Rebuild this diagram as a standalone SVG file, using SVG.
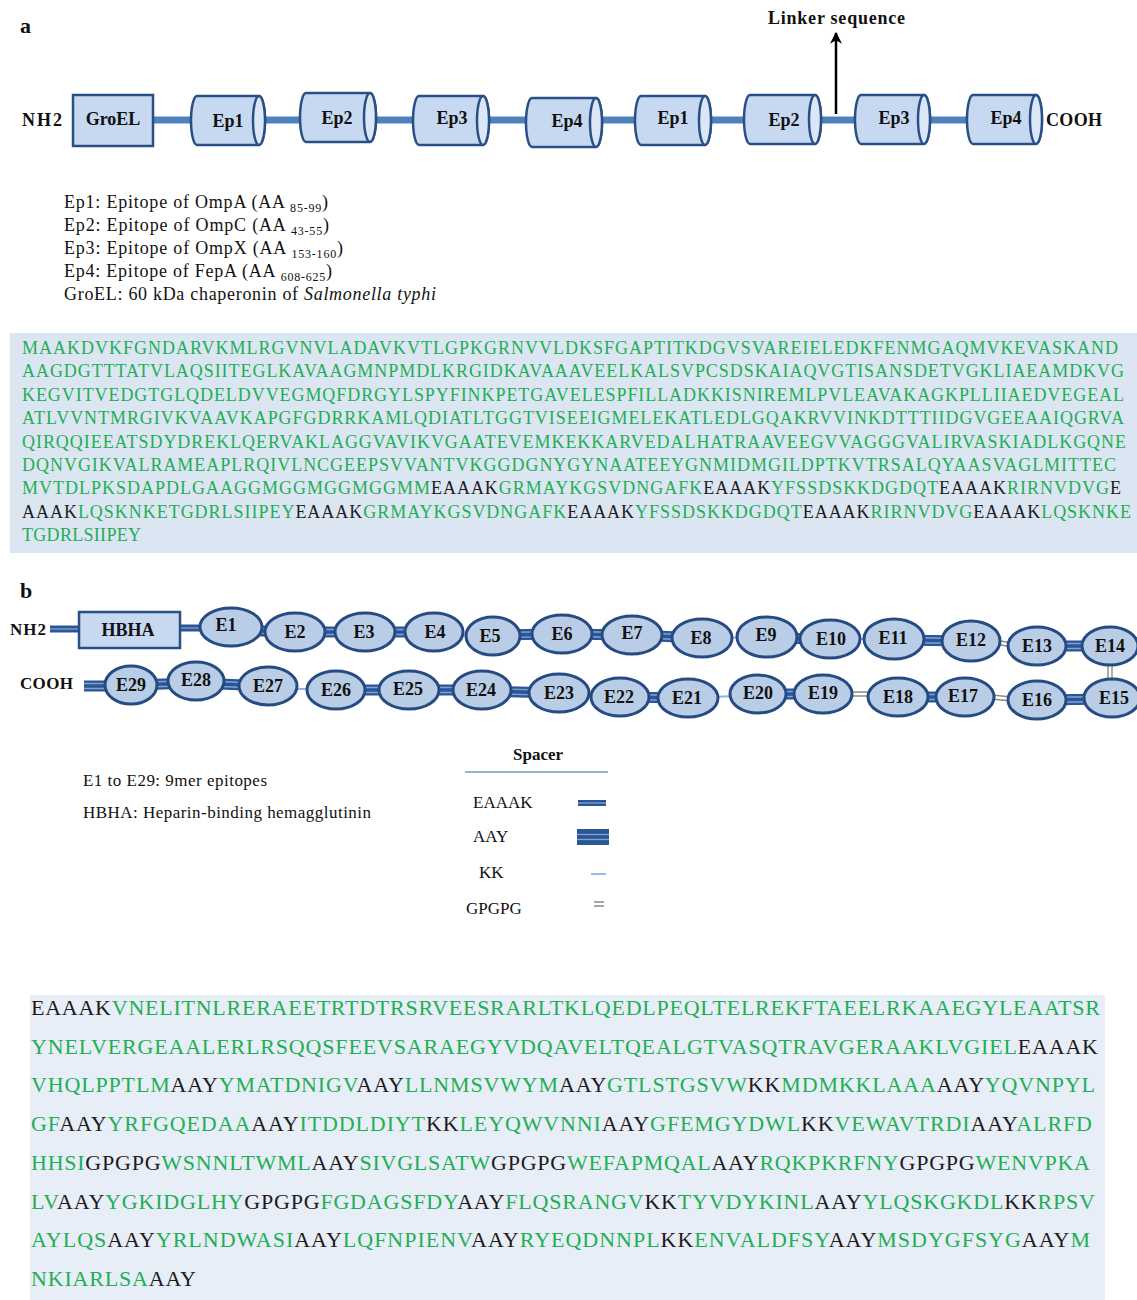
<svg xmlns="http://www.w3.org/2000/svg" width="1137" height="1300" viewBox="0 0 1137 1300">
<defs>
<marker id="arr" viewBox="0 0 10 10" refX="9" refY="5" markerWidth="12" markerHeight="12" orient="auto-start-reverse" markerUnits="userSpaceOnUse">
<path d="M0,0 L10,5 L0,10 L3,5 Z" fill="#000"/>
</marker>
</defs>
<style>
text{font-family:"Liberation Serif","Times New Roman",serif;fill:#111}
.b{font-weight:bold}
.lbl{font-weight:bold;font-size:18px;text-anchor:middle}
.box{fill:#c6d9f1;stroke:#2a4f86;stroke-width:2.5}
.cap{fill:#dbe7f6;stroke:#2a4f86;stroke-width:2.5}
.ell{fill:#b9cde6;stroke:#264b82;stroke-width:3}
.bb{stroke:#4f81bd;stroke-width:7;fill:none}
.eo{stroke:#2c5594;stroke-width:7;fill:none}
.ao{stroke:#2c5594;stroke-width:11;fill:none}
.st{stroke:#7ea3d6;stroke-width:1.3;fill:none}
.kk{stroke:#8db3e2;stroke-width:1.8;fill:none}
.gp{stroke:#8a8a8a;stroke-width:1.4;fill:none}
.g{fill:#22ae55}
.k{fill:#1d1b20}
.leg{font-size:18px}
.sub{font-size:12px}
.sa{font-size:18px}
.sb{font-size:22px}
</style>

<!-- Panel a -->
<text x="20" y="33" class="b" font-size="22">a</text>
<text x="768" y="24" class="b" font-size="18" textLength="137">Linker sequence</text>

<g id="a-connectors">
<line x1="153" y1="120" x2="1000" y2="120" class="bb"/>
<line x1="836" y1="114" x2="836" y2="33" stroke="#000" stroke-width="2.5" marker-end="url(#arr)"/>
</g>

<text x="22" y="126" class="b" font-size="18" textLength="40">NH2</text>
<text x="1046" y="126" class="b" font-size="18" textLength="56">COOH</text>

<g id="a-groel">
<rect x="73" y="95" width="80" height="51" class="box"/>
<text x="113" y="125" class="lbl">GroEL</text>
</g>
<g id="a-ep1">
<path d="M197 96 H259 A6 24.5 0 0 1 259 145 H197 A6 24.5 0 0 1 197 96 Z" class="box"/>
<ellipse cx="259" cy="120.5" rx="6" ry="24.5" class="cap"/>
<text x="228" y="127" class="lbl">Ep1</text>
</g>
<g id="a-ep2">
<path d="M306 93 H370 A6 24.5 0 0 1 370 142 H306 A6 24.5 0 0 1 306 93 Z" class="box"/>
<ellipse cx="370" cy="117.5" rx="6" ry="24.5" class="cap"/>
<text x="337" y="124" class="lbl">Ep2</text>
</g>
<g id="a-ep3">
<path d="M419 96 H483 A6 24.5 0 0 1 483 145 H419 A6 24.5 0 0 1 419 96 Z" class="box"/>
<ellipse cx="483" cy="120.5" rx="6" ry="24.5" class="cap"/>
<text x="452" y="124" class="lbl">Ep3</text>
</g>
<g id="a-ep4">
<path d="M532 98 H596 A6 24.5 0 0 1 596 147 H532 A6 24.5 0 0 1 532 98 Z" class="box"/>
<ellipse cx="596" cy="122.5" rx="6" ry="24.5" class="cap"/>
<text x="567" y="127" class="lbl">Ep4</text>
</g>
<g id="a-ep1b">
<path d="M641 96 H705 A6 24.5 0 0 1 705 145 H641 A6 24.5 0 0 1 641 96 Z" class="box"/>
<ellipse cx="705" cy="120.5" rx="6" ry="24.5" class="cap"/>
<text x="673" y="124" class="lbl">Ep1</text>
</g>
<g id="a-ep2b">
<path d="M750 95 H815 A6 24.5 0 0 1 815 144 H750 A6 24.5 0 0 1 750 95 Z" class="box"/>
<ellipse cx="815" cy="119.5" rx="6" ry="24.5" class="cap"/>
<text x="784" y="126" class="lbl">Ep2</text>
</g>
<g id="a-ep3b">
<path d="M861 95 H924 A6 24.5 0 0 1 924 144 H861 A6 24.5 0 0 1 861 95 Z" class="box"/>
<ellipse cx="924" cy="119.5" rx="6" ry="24.5" class="cap"/>
<text x="894" y="124" class="lbl">Ep3</text>
</g>
<g id="a-ep4b">
<path d="M973 95 H1036 A6 24.5 0 0 1 1036 144 H973 A6 24.5 0 0 1 973 95 Z" class="box"/>
<ellipse cx="1036" cy="119.5" rx="6" ry="24.5" class="cap"/>
<text x="1006" y="124" class="lbl">Ep4</text>
</g>

<g id="a-legend" class="leg">
<text x="64" y="208" textLength="264">Ep1: Epitope  of OmpA (AA <tspan class="sub" dy="4">85-99</tspan><tspan dy="-4">)</tspan></text>
<text x="64" y="231" textLength="265">Ep2: Epitope  of OmpC (AA <tspan class="sub" dy="4">43-55</tspan><tspan dy="-4">)</tspan></text>
<text x="64" y="254" textLength="279">Ep3: Epitope  of OmpX (AA <tspan class="sub" dy="4">153-160</tspan><tspan dy="-4">)</tspan></text>
<text x="64" y="277" textLength="268">Ep4: Epitope  of FepA (AA <tspan class="sub" dy="4">608-625</tspan><tspan dy="-4">)</tspan></text>
<text x="64" y="300" textLength="372">GroEL:  60 kDa chaperonin  of <tspan font-style="italic">Salmonella typhi</tspan></text>
</g>

<g id="a-sequence">
<rect x="10" y="333" width="1127" height="220" fill="#dce6f2"/>
<g class="sa">
<text x="22" y="354" textLength="1096" class="g">MAAKDVKFGNDARVKMLRGVNVLADAVKVTLGPKGRNVVLDKSFGAPTITKDGVSVAREIELEDKFENMGAQMVKEVASKAND</text>
<text x="22" y="377.4" textLength="1102" class="g">AAGDGTTTATVLAQSIITEGLKAVAAGMNPMDLKRGIDKAVAAAVEELKALSVPCSDSKAIAQVGTISANSDETVGKLIAEAMDKVG</text>
<text x="22" y="400.8" textLength="1102" class="g">KEGVITVEDGTGLQDELDVVEGMQFDRGYLSPYFINKPETGAVELESPFILLADKKISNIREMLPVLEAVAKAGKPLLIIAEDVEGEAL</text>
<text x="22" y="424.2" textLength="1102" class="g">ATLVVNTMRGIVKVAAVKAPGFGDRRKAMLQDIATLTGGTVISEEIGMELEKATLEDLGQAKRVVINKDTTTIIDGVGEEAAIQGRVA</text>
<text x="22" y="447.6" textLength="1104" class="g">QIRQQIEEATSDYDREKLQERVAKLAGGVAVIKVGAATEVEMKEKKARVEDALHATRAAVEEGVVAGGGVALIRVASKIADLKGQNE</text>
<text x="22" y="471" textLength="1094" class="g">DQNVGIKVALRAMEAPLRQIVLNCGEEPSVVANTVKGGDGNYGYNAATEEYGNMIDMGILDPTKVTRSALQYAASVAGLMITTEC</text>
<text x="22" y="494.4" textLength="1099"><tspan class="g">MVTDLPKSDAPDLGAAGGMGGMGGMGGMM</tspan><tspan class="k">EAAAK</tspan><tspan class="g">GRMAYKGSVDNGAFK</tspan><tspan class="k">EAAAK</tspan><tspan class="g">YFSSDSKKDGDQT</tspan><tspan class="k">EAAAK</tspan><tspan class="g">RIRNVDVG</tspan><tspan class="k">E</tspan></text>
<text x="22" y="517.8" textLength="1109"><tspan class="k">AAAK</tspan><tspan class="g">LQSKNKETGDRLSIIPEY</tspan><tspan class="k">EAAAK</tspan><tspan class="g">GRMAYKGSVDNGAFK</tspan><tspan class="k">EAAAK</tspan><tspan class="g">YFSSDSKKDGDQT</tspan><tspan class="k">EAAAK</tspan><tspan class="g">RIRNVDVG</tspan><tspan class="k">EAAAK</tspan><tspan class="g">LQSKNKE</tspan></text>
<text x="22" y="541.2" textLength="119" class="g">TGDRLSIIPEY</text>
</g>
</g>

<!-- Panel b -->
<text x="20" y="598" class="b" font-size="22">b</text>
<text x="10" y="635" class="b" font-size="17" textLength="36">NH2</text>
<text x="20" y="689" class="b" font-size="17" textLength="53">COOH</text>

<g id="b-connectors">
<line x1="50" y1="629" x2="80" y2="629" class="eo"/><line x1="50" y1="629" x2="80" y2="629" class="st"/>
<line x1="180" y1="628" x2="202" y2="628" class="eo"/><line x1="180" y1="628" x2="202" y2="628" class="st"/>
<g>
<path d="M231 630 L295 632 M295 632 L365 632 M365 632 L434 632 M493 635 L562 634 M562 634 L632 635 M632 635 L702 638 M767 638 L830 639 M894 640 L971 641 M1037 646 L1110 646" class="ao"/>
<path d="M231 627.5 L295 629.5 M295 629.5 L365 629.5 M365 629.5 L434 629.5 M493 632.5 L562 631.5 M562 631.5 L632 632.5 M632 632.5 L702 635.5 M767 635.5 L830 636.5 M894 637.5 L971 638.5 M1037 643.5 L1110 643.5" class="st"/>
<path d="M231 632.5 L295 634.5 M295 634.5 L365 634.5 M365 634.5 L434 634.5 M493 637.5 L562 636.5 M562 636.5 L632 637.5 M632 637.5 L702 640.5 M767 640.5 L830 641.5 M894 642.5 L971 643.5 M1037 648.5 L1110 648.5" class="st"/>
</g>
<path d="M434 634 L493 635 M702 638 L767 637 M830 639 L894 639" class="kk"/>
<path d="M995 640 L1012 643 M995 644 L1012 647" class="gp"/>
<path d="M1108 662 L1108 682 M1112 662 L1112 682" class="gp"/>
<g>
<path d="M84 686 L131 686 M131 685 L196 683 M196 683 L268 686 M336 690 L409 690 M409 690 L482 690 M482 691 L559 693 M620 697 L688 698 M758 694 L823 694 M898 697 L965 697 M1037 700 L1112 699" class="ao"/>
<path d="M84 683.5 L131 683.5 M131 682.5 L196 680.5 M196 680.5 L268 683.5 M336 687.5 L409 687.5 M409 687.5 L482 687.5 M482 688.5 L559 690.5 M620 694.5 L688 695.5 M758 691.5 L823 691.5 M898 694.5 L965 694.5 M1037 697.5 L1112 696.5" class="st"/>
<path d="M84 688.5 L131 688.5 M131 687.5 L196 685.5 M196 685.5 L268 688.5 M336 692.5 L409 692.5 M409 692.5 L482 692.5 M482 693.5 L559 695.5 M620 699.5 L688 700.5 M758 696.5 L823 696.5 M898 699.5 L965 699.5 M1037 702.5 L1112 701.5" class="st"/>
</g>
<path d="M268 688 L336 690 M559 695 L620 697 M688 698 L758 695" class="kk"/>
<path d="M850 692 L870 692 M850 696 L870 696 M992 695 L1011 697 M992 699 L1011 701" class="gp"/>
</g>

<g id="b-hbha">
<rect x="79" y="612" width="101" height="36" class="box"/>
<text x="128" y="636" class="lbl">HBHA</text>
</g>
<g id="b-E1"><ellipse cx="231" cy="627" rx="31" ry="19" class="ell"/><text x="226" y="631" class="lbl">E1</text></g>
<g id="b-E2"><ellipse cx="295" cy="632" rx="30" ry="19" class="ell"/><text x="295" y="638" class="lbl">E2</text></g>
<g id="b-E3"><ellipse cx="365" cy="632" rx="30" ry="19" class="ell"/><text x="364" y="638" class="lbl">E3</text></g>
<g id="b-E4"><ellipse cx="434" cy="632" rx="29" ry="19" class="ell"/><text x="435" y="638" class="lbl">E4</text></g>
<g id="b-E5"><ellipse cx="493" cy="636" rx="27" ry="19" class="ell"/><text x="490" y="642" class="lbl">E5</text></g>
<g id="b-E6"><ellipse cx="562" cy="634" rx="30" ry="19" class="ell"/><text x="562" y="640" class="lbl">E6</text></g>
<g id="b-E7"><ellipse cx="632" cy="635" rx="30" ry="19" class="ell"/><text x="632" y="639" class="lbl">E7</text></g>
<g id="b-E8"><ellipse cx="702" cy="638" rx="30" ry="19" class="ell"/><text x="701" y="644" class="lbl">E8</text></g>
<g id="b-E9"><ellipse cx="767" cy="637" rx="30" ry="20" class="ell"/><text x="766" y="641" class="lbl">E9</text></g>
<g id="b-E10"><ellipse cx="830" cy="639" rx="30" ry="19" class="ell"/><text x="831" y="645" class="lbl">E10</text></g>
<g id="b-E11"><ellipse cx="894" cy="639" rx="30" ry="20" class="ell"/><text x="893" y="644" class="lbl">E11</text></g>
<g id="b-E12"><ellipse cx="971" cy="641" rx="29" ry="20" class="ell"/><text x="971" y="646" class="lbl">E12</text></g>
<g id="b-E13"><ellipse cx="1037" cy="646" rx="29" ry="19" class="ell"/><text x="1037" y="652" class="lbl">E13</text></g>
<g id="b-E14"><ellipse cx="1110" cy="646" rx="28" ry="19" class="ell"/><text x="1110" y="652" class="lbl">E14</text></g>
<g id="b-E15"><ellipse cx="1112" cy="698" rx="28" ry="19" class="ell"/><text x="1114" y="704" class="lbl">E15</text></g>
<g id="b-E16"><ellipse cx="1037" cy="700" rx="29" ry="19" class="ell"/><text x="1037" y="706" class="lbl">E16</text></g>
<g id="b-E17"><ellipse cx="965" cy="697" rx="29" ry="19" class="ell"/><text x="963" y="702" class="lbl">E17</text></g>
<g id="b-E18"><ellipse cx="898" cy="697" rx="30" ry="19" class="ell"/><text x="898" y="703" class="lbl">E18</text></g>
<g id="b-E19"><ellipse cx="823" cy="694" rx="29" ry="19" class="ell"/><text x="823" y="699" class="lbl">E19</text></g>
<g id="b-E20"><ellipse cx="758" cy="694" rx="28" ry="19" class="ell"/><text x="758" y="699" class="lbl">E20</text></g>
<g id="b-E21"><ellipse cx="688" cy="698" rx="30" ry="19" class="ell"/><text x="687" y="704" class="lbl">E21</text></g>
<g id="b-E22"><ellipse cx="620" cy="697" rx="29" ry="19" class="ell"/><text x="619" y="703" class="lbl">E22</text></g>
<g id="b-E23"><ellipse cx="559" cy="693" rx="30" ry="19" class="ell"/><text x="559" y="699" class="lbl">E23</text></g>
<g id="b-E24"><ellipse cx="482" cy="690" rx="29" ry="19" class="ell"/><text x="481" y="696" class="lbl">E24</text></g>
<g id="b-E25"><ellipse cx="409" cy="690" rx="30" ry="19" class="ell"/><text x="408" y="695" class="lbl">E25</text></g>
<g id="b-E26"><ellipse cx="336" cy="690" rx="29" ry="19" class="ell"/><text x="336" y="696" class="lbl">E26</text></g>
<g id="b-E27"><ellipse cx="268" cy="686" rx="29" ry="19" class="ell"/><text x="268" y="692" class="lbl">E27</text></g>
<g id="b-E28"><ellipse cx="196" cy="681" rx="28" ry="19" class="ell"/><text x="196" y="686" class="lbl">E28</text></g>
<g id="b-E29"><ellipse cx="131" cy="685" rx="26" ry="19" class="ell"/><text x="131" y="691" class="lbl">E29</text></g>

<g id="b-legend" font-size="17">
<text x="83" y="786" textLength="184">E1 to E29:  9mer  epitopes</text>
<text x="83" y="818" textLength="288">HBHA:  Heparin-binding  hemagglutinin</text>
</g>

<g id="b-spacer-legend" font-size="17">
<text x="538" y="760" class="b" text-anchor="middle">Spacer</text>
<line x1="465" y1="772" x2="608" y2="772" stroke="#95b3d7" stroke-width="2"/>
<text x="473" y="808">EAAAK</text>
<rect x="578" y="800" width="28" height="6" fill="#2c5594"/><line x1="578" y1="803" x2="606" y2="803" class="st"/>
<text x="473" y="842">AAY</text>
<rect x="577" y="829" width="32" height="16" fill="#2c5594"/><line x1="577" y1="834.5" x2="609" y2="834.5" class="st"/><line x1="577" y1="839.5" x2="609" y2="839.5" class="st"/>
<text x="479" y="878">KK</text>
<line x1="591" y1="874" x2="606" y2="874" class="kk"/>
<text x="466" y="914">GPGPG</text>
<path d="M594 902 L604 902 M594 906 L604 906" class="gp"/>
</g>

<g id="b-sequence">
<rect x="30" y="995" width="1075" height="305" fill="#e8eef7"/>
<g class="sb">
<text x="31" y="1015" textLength="1069"><tspan class="k">EAAAK</tspan><tspan class="g">VNELITNLRERAEETRTDTRSRVEESRARLTKLQEDLPEQLTELREKFTAEELRKAAEGYLEAATSR</tspan></text>
<text x="31" y="1054" textLength="1067"><tspan class="g">YNELVERGEAALERLRSQQSFEEVSARAEGYVDQAVELTQEALGTVASQTRAVGERAAKLVGIEL</tspan><tspan class="k">EAAAK</tspan></text>
<text x="31" y="1092" textLength="1064"><tspan class="g">VHQLPPTLM</tspan><tspan class="k">AAY</tspan><tspan class="g">YMATDNIGV</tspan><tspan class="k">AAY</tspan><tspan class="g">LLNMSVWYM</tspan><tspan class="k">AAY</tspan><tspan class="g">GTLSTGSVW</tspan><tspan class="k">KK</tspan><tspan class="g">MDMKKLAAA</tspan><tspan class="k">AAY</tspan><tspan class="g">YQVNPYL</tspan></text>
<text x="31" y="1131" textLength="1061"><tspan class="g">GF</tspan><tspan class="k">AAY</tspan><tspan class="g">YRFGQEDAA</tspan><tspan class="k">AAY</tspan><tspan class="g">ITDDLDIYT</tspan><tspan class="k">KK</tspan><tspan class="g">LEYQWVNNI</tspan><tspan class="k">AAY</tspan><tspan class="g">GFEMGYDWL</tspan><tspan class="k">KK</tspan><tspan class="g">VEWAVTRDI</tspan><tspan class="k">AAY</tspan><tspan class="g">ALRFD</tspan></text>
<text x="31" y="1170" textLength="1059"><tspan class="g">HHSI</tspan><tspan class="k">GPGPG</tspan><tspan class="g">WSNNLTWML</tspan><tspan class="k">AAY</tspan><tspan class="g">SIVGLSATW</tspan><tspan class="k">GPGPG</tspan><tspan class="g">WEFAPMQAL</tspan><tspan class="k">AAY</tspan><tspan class="g">RQKPKRFNY</tspan><tspan class="k">GPGPG</tspan><tspan class="g">WENVPKA</tspan></text>
<text x="31" y="1209" textLength="1064"><tspan class="g">LV</tspan><tspan class="k">AAY</tspan><tspan class="g">YGKIDGLHY</tspan><tspan class="k">GPGPG</tspan><tspan class="g">FGDAGSFDY</tspan><tspan class="k">AAY</tspan><tspan class="g">FLQSRANGV</tspan><tspan class="k">KK</tspan><tspan class="g">TYVDYKINL</tspan><tspan class="k">AAY</tspan><tspan class="g">YLQSKGKDL</tspan><tspan class="k">KK</tspan><tspan class="g">RPSV</tspan></text>
<text x="31" y="1247" textLength="1059"><tspan class="g">AYLQS</tspan><tspan class="k">AAY</tspan><tspan class="g">YRLNDWASI</tspan><tspan class="k">AAY</tspan><tspan class="g">LQFNPIENV</tspan><tspan class="k">AAY</tspan><tspan class="g">RYEQDNNPL</tspan><tspan class="k">KK</tspan><tspan class="g">ENVALDFSY</tspan><tspan class="k">AAY</tspan><tspan class="g">MSDYGFSYG</tspan><tspan class="k">AAY</tspan><tspan class="g">M</tspan></text>
<text x="31" y="1286" textLength="165"><tspan class="g">NKIARLSA</tspan><tspan class="k">AAY</tspan></text>
</g>
</g>
</svg>
